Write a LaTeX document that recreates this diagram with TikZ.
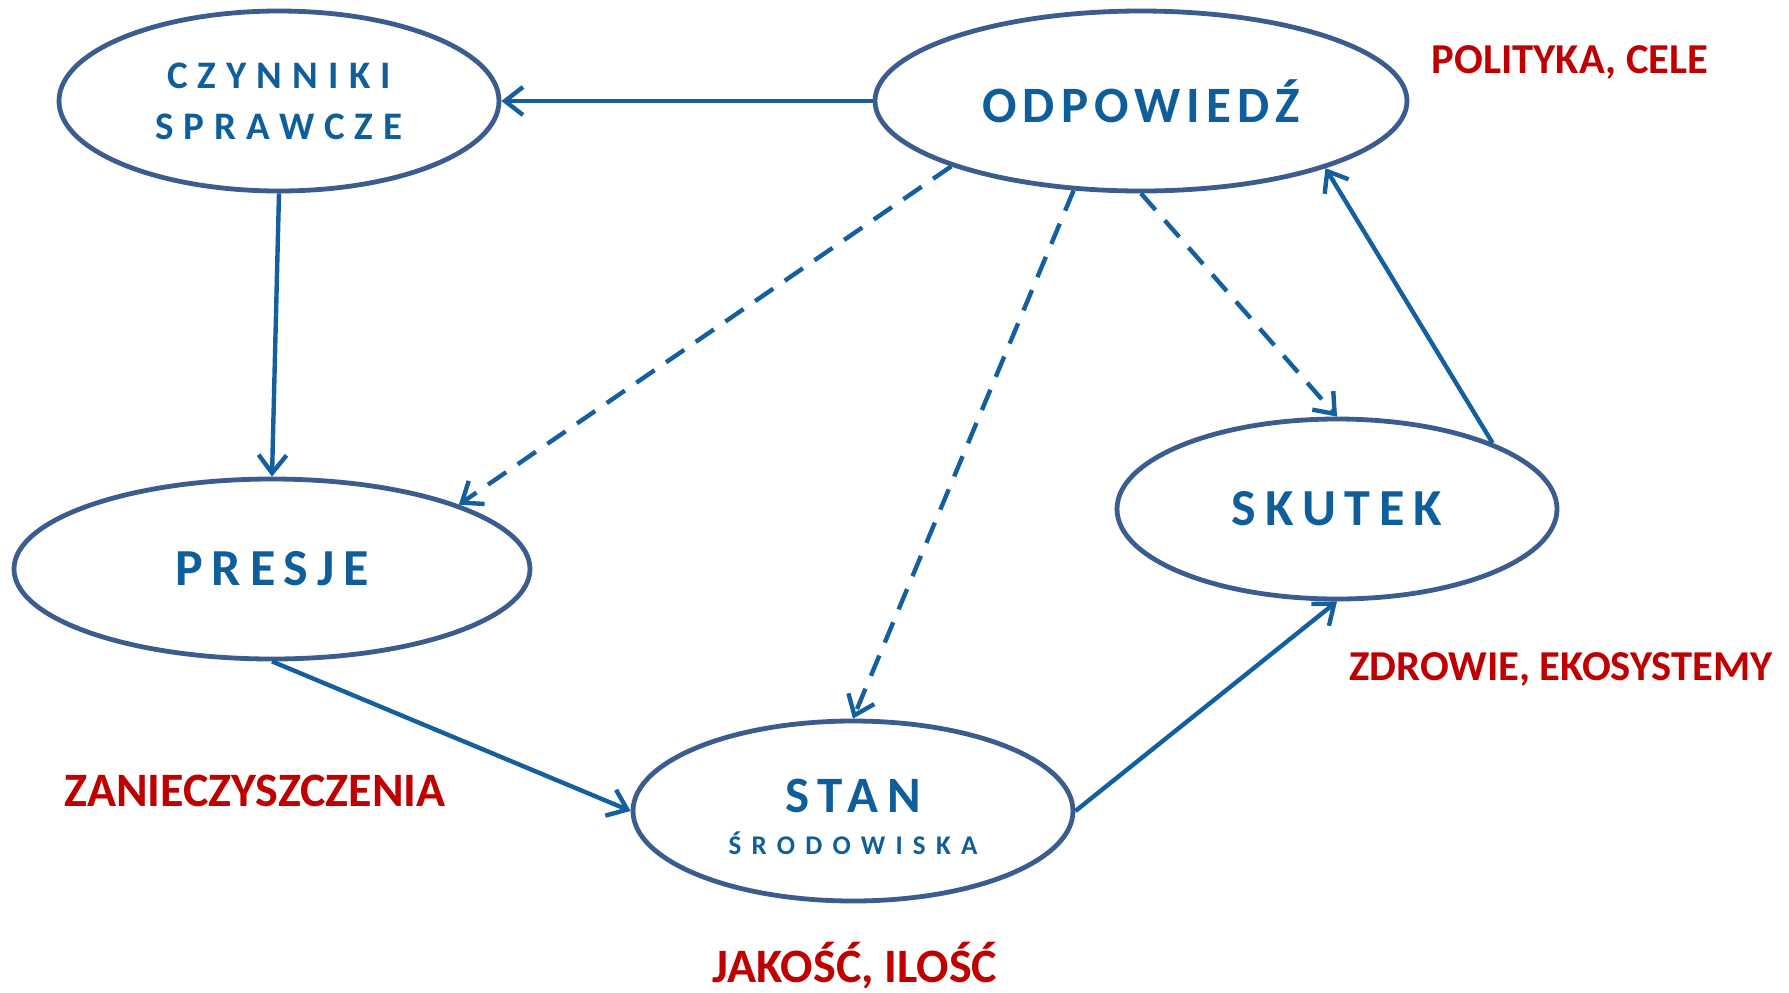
\documentclass[tikz,border=0pt]{standalone}
\usepackage{fontspec}
\setmainfont{Carlito}
\newfontfamily\spacedA{Carlito}[LetterSpace=12]
\newfontfamily\spacedB{Carlito}[LetterSpace=17]
\newfontfamily\spacedC{Carlito}[LetterSpace=26]
\newfontfamily\spacedD{Carlito}[LetterSpace=38]
\usetikzlibrary{shapes.geometric,arrows.meta}
\definecolor{txtblue}{HTML}{0F5E9C}
\definecolor{ellblue}{HTML}{3A5C8E}
\definecolor{arrblue}{HTML}{14609E}
\definecolor{notered}{HTML}{C00000}
\begin{document}
\begin{tikzpicture}[x=0.5pt,y=-0.5pt,
  ell/.style={ellipse, draw=ellblue, line width=2.4pt, inner sep=0pt, text=txtblue, align=center, minimum height=90pt},
  conn/.style={draw=arrblue, line width=2.2pt, -{Straight Barb[length=9pt,width=14pt]}},
  dconn/.style={conn, dash pattern=on 11pt off 7pt},
  note/.style={text=notered, anchor=base, font=\bfseries\fontsize{21.3}{26}\selectfont},
  bignote/.style={note, font=\bfseries\fontsize{24}{28}\selectfont}]
\useasboundingbox (0,0) rectangle (1789,992);
\node[ell, minimum width=220pt, font=\spacedC\bfseries\fontsize{19.5}{25.5}\selectfont] (cz) at (279,101) {CZYNNIKI\\SPRAWCZE};
\node[ell, minimum width=266pt, font=\spacedA\bfseries\fontsize{25.5}{28}\selectfont] (odp) at (1141,101) {ODPOWIEDŹ};
\node[ell, minimum width=258pt, font=\spacedB\bfseries\fontsize{26}{28}\selectfont] (pr) at (272,569) {PRESJE};
\node[ell, minimum width=220pt, font=\spacedB\bfseries\fontsize{26}{28}\selectfont] (sk) at (1337,509) {SKUTEK};
\node[ell, minimum width=220pt, font=\bfseries] (st) at (853,811) {{\spacedB\bfseries\fontsize{25.5}{22}\selectfont\rule{0pt}{23pt}STAN}\\[9pt]{\spacedD\bfseries\fontsize{13.5}{22}\selectfont ŚRODOWISKA}};
\node[note] (pol) at (1570,73) {POLITYKA, CELE};
\node[note] (zdr) at (1561,680) {ZDROWIE, EKOSYSTEMY};
\node[bignote] (zan) at (255,806) {ZANIECZYSZCZENIA};
\node[bignote] (jak) at (855,982) {JAKOŚĆ, ILOŚĆ};
\draw[conn] (odp.west) -- (cz.east);
\draw[conn] (cz.south) -- (pr.north);
\draw[conn] (pr.south) -- (st.west);
\draw[conn] (st.east) -- (sk.south);
\draw[conn] (sk.23) -- (odp.-20);
\draw[dconn] (odp.-161) -- (pr.19.5);
\draw[dconn] (odp.-127) -- (st.north);
\draw[dconn] (odp.south) -- (sk.north);
\end{tikzpicture}
\end{document}
